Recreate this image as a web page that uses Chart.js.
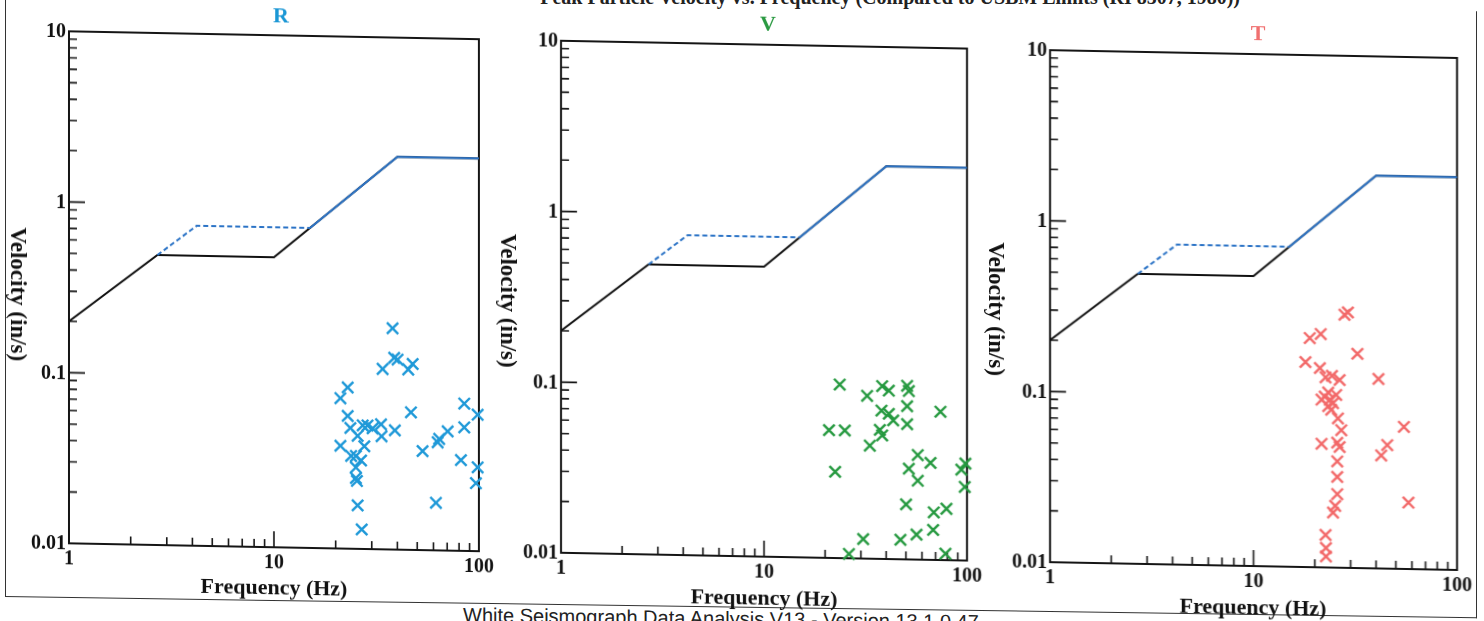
<!DOCTYPE html>
<html>
<head>
<meta charset="utf-8">
<script src="https://cdn.jsdelivr.net/npm/chart.js@4.4.1/dist/chart.umd.min.js"></script>
<style>
  body { margin: 0; width: 1484px; height: 621px; overflow: hidden; position: relative; background: #fff; font-family: "Liberation Serif", serif; }
  #page { position: absolute; left: 0; top: 0; width: 1484px; height: 621px; transform-origin: 0 0; transform: skewY(1.1deg); }
  #outer { position: absolute; left: 0; top: 0; width: 1484px; height: 621px; transform-origin: 0 0; transform: skewY(0.82deg); }
  canvas { position: absolute; top: 0; }
  .ttl { position: absolute; font-weight: bold; font-size: 22px; transform: translate(-50%, -50%); white-space: nowrap; }
  .xt { position: absolute; font-weight: bold; font-size: 22px; color: #111; transform: translate(-50%, -50%); white-space: nowrap; }
  .yt { position: absolute; font-weight: bold; font-size: 23px; color: #111; transform: translate(-50%, -50%) rotate(90deg); white-space: nowrap; }
  #frame { position: absolute; left: 5px; top: -10px; width: 1470px; height: 606px; border: 1.5px solid #333; border-top: none; }
  #foot { position: absolute; left: 463px; top: 597px; font-family: "Liberation Sans", sans-serif; font-size: 20px; line-height: 22px; color: #222; white-space: nowrap; }
  #head { position: absolute; right: 244px; top: -13px; font-weight: bold; font-size: 20px; line-height: 20px; color: #222; white-space: nowrap; }
</style>
</head>
<body>
<div id="head">Peak Particle Velocity vs. Frequency (Compared to USBM Limits (RI 8507, 1980))</div>
<div id="outer">
  <div id="frame"></div>
  <div id="foot">White Seismograph Data Analysis V13 - Version 13.1.0.47</div>
</div>
<div id="page">
  <canvas id="cR" width="500" height="610" style="left:0px"></canvas>
  <canvas id="cV" width="500" height="610" style="left:490px"></canvas>
  <canvas id="cT" width="500" height="610" style="left:980px"></canvas>

  <div class="ttl" style="left:281px;top:10px;color:#1b97d5">R</div>
  <div class="ttl" style="left:768px;top:9px;color:#2b9a42">V</div>
  <div class="ttl" style="left:1258px;top:9px;color:#f07070">T</div>

  <div class="xt" style="left:274px;top:582px">Frequency (Hz)</div>
  <div class="xt" style="left:764px;top:583px">Frequency (Hz)</div>
  <div class="xt" style="left:1253px;top:583px">Frequency (Hz)</div>

  <div class="yt" style="left:18px;top:294px">Velocity (in/s)</div>
  <div class="yt" style="left:508px;top:291px">Velocity (in/s)</div>
  <div class="yt" style="left:996px;top:290px">Velocity (in/s)</div>
</div>

<script>
// axis ticks
const xTicks = [1, 10, 100];
const xTickLabels = ['1', '10', '100'];
const yTicks = [0.01, 0.1, 1, 10];
const yTickLabels = ['0.01', '0.1', '1', '10'];

// USBM RI 8507 limit curves
const plasterFreq = [1, 2.7, 10, 40, 100];
const plasterVel = [0.2, 0.5, 0.5, 2, 2];
const drywallFreq = [2.7, 4.2, 15, 40, 100];
const drywallVel = [0.5, 0.75, 0.75, 2, 2];

// R (radial)
const rFreq = [37.9, 38.6, 40.1, 33.9, 45.2, 47.5, 22.9, 21.1, 46.6, 84.8, 98.6, 22.9, 23.6, 27.1, 28.6, 30.3, 33.3, 33.5, 38.9, 25.6,
  21.1, 27.6, 23.8, 25.1, 26.6, 25.1, 25.1, 25.4, 53.1, 62.9, 64.0, 70.4, 84.8, 81.7, 98.6, 96.7, 25.6, 61.7, 26.8];
const rVel = [0.198, 0.133, 0.130, 0.114, 0.114, 0.123, 0.088, 0.076, 0.064, 0.073, 0.063, 0.060, 0.051, 0.053, 0.053, 0.051, 0.054, 0.046, 0.050, 0.046,
  0.040, 0.040, 0.035, 0.035, 0.033, 0.030, 0.026, 0.025, 0.038, 0.043, 0.045, 0.050, 0.053, 0.034, 0.031, 0.025, 0.018, 0.019, 0.013];

// V (vertical)
const vFreq = [23.6, 32.2, 38.2, 41.2, 50.7, 51.7, 50.7, 37.9, 41.2, 43.3, 50.7, 74.0, 20.9, 25.0, 37.2, 38.2, 33.2, 22.4, 57.2, 66.1,
  51.7, 57.2, 98.2, 93.8, 97.5, 50.1, 68.6, 79.2, 68.1, 56.4, 47.0, 30.8, 26.2, 78.3];
const vVel = [0.104, 0.090, 0.103, 0.097, 0.104, 0.097, 0.079, 0.074, 0.071, 0.065, 0.062, 0.074, 0.056, 0.056, 0.057, 0.053, 0.046, 0.032, 0.041, 0.037,
  0.034, 0.029, 0.037, 0.034, 0.027, 0.021, 0.019, 0.020, 0.015, 0.014, 0.013, 0.013, 0.0106, 0.0109];

// T (transverse)
const tFreq = [28.0, 29.1, 18.9, 21.4, 32.4, 18.0, 21.2, 22.6, 24.3, 26.5, 41.1, 22.4, 23.7, 24.6, 25.5, 23.3, 24.1, 21.6, 23.3, 26.0,
  27.0, 21.6, 25.8, 26.5, 54.8, 45.4, 42.4, 25.8, 25.8, 25.8, 25.2, 24.6, 57.7, 22.6, 22.7, 22.7];
const tVel = [0.304, 0.314, 0.220, 0.233, 0.180, 0.159, 0.147, 0.130, 0.133, 0.126, 0.129, 0.100, 0.096, 0.092, 0.103, 0.088, 0.084, 0.096, 0.106, 0.075,
  0.064, 0.053, 0.054, 0.051, 0.068, 0.053, 0.046, 0.042, 0.034, 0.027, 0.023, 0.021, 0.0245, 0.0155, 0.013, 0.0116];

function pts(xs, ys) {
  return xs.map((x, i) => ({ x: x, y: ys[i] }));
}

// 1..9 in each decade
function logTicks(min, max) {
  const out = [];
  for (let e = Math.round(Math.log10(min)); e < Math.round(Math.log10(max)); e++) {
    for (let k = 1; k <= 9; k++) out.push({ v: k * Math.pow(10, e), major: k === 1 });
  }
  return out;
}

// box, inward ticks and tick labels
const frame = {
  id: 'frame',
  beforeDatasetsDraw(chart) {
    const { ctx, chartArea: a, scales: { x, y } } = chart;
    ctx.save();
    ctx.strokeStyle = '#151515';
    ctx.lineWidth = 2;
    ctx.strokeRect(a.left, a.top, a.right - a.left, a.bottom - a.top);
    ctx.lineWidth = 1.6;
    ctx.beginPath();
    logTicks(x.min, x.max).forEach(t => {
      const px = x.getPixelForValue(t.v);
      ctx.moveTo(px, a.bottom);
      ctx.lineTo(px, a.bottom - (t.major ? 16 : 8));
    });
    logTicks(y.min, y.max).forEach(t => {
      const py = y.getPixelForValue(t.v);
      ctx.moveTo(a.left, py);
      ctx.lineTo(a.left + (t.major ? 16 : 8), py);
    });
    ctx.stroke();
    ctx.fillStyle = '#111';
    ctx.font = 'bold 20px "Liberation Serif"';
    ctx.textBaseline = 'middle';
    ctx.textAlign = 'center';
    xTicks.forEach((v, i) => ctx.fillText(xTickLabels[i], x.getPixelForValue(v), a.bottom + 16));
    ctx.textAlign = 'right';
    yTicks.forEach((v, i) => ctx.fillText(yTickLabels[i], a.left - 3, y.getPixelForValue(v) + 1));
    ctx.restore();
  }
};

function makeChart(id, fx, vy, color, padLeft, padRight) {
  new Chart(document.getElementById(id), {
    type: 'scatter',
    data: {
      datasets: [
        {
          data: pts(fx, vy),
          pointStyle: 'crossRot',
          pointRadius: 8,
          pointBorderWidth: 2.4,
          borderColor: color,
          backgroundColor: color,
          clip: false
        },
        {
          data: pts(drywallFreq, drywallVel),
          showLine: true,
          pointRadius: 0,
          borderColor: '#2b73c6',
          borderWidth: 2,
          segment: { borderDash: c => c.p0DataIndex < 2 ? [5, 3] : undefined }
        },
        {
          data: pts(plasterFreq, plasterVel),
          showLine: true,
          pointRadius: 0,
          borderColor: '#111',
          borderWidth: 2
        }
      ]
    },
    options: {
      responsive: false,
      animation: false,
      devicePixelRatio: 1,
      layout: { padding: { left: padLeft, right: padRight, top: 30, bottom: 68 } },
      plugins: { legend: { display: false }, tooltip: { enabled: false } },
      scales: {
        x: { type: 'logarithmic', min: 1, max: 100, display: false },
        y: { type: 'logarithmic', min: 0.01, max: 10, display: false }
      }
    },
    plugins: [frame]
  });
}

makeChart('cR', rFreq, rVel, '#1f99d8', 69, 21);
makeChart('cV', vFreq, vVel, '#25993f', 71, 23);
makeChart('cT', tFreq, tVel, '#f26868', 70, 23);
</script>
</body>
</html>
